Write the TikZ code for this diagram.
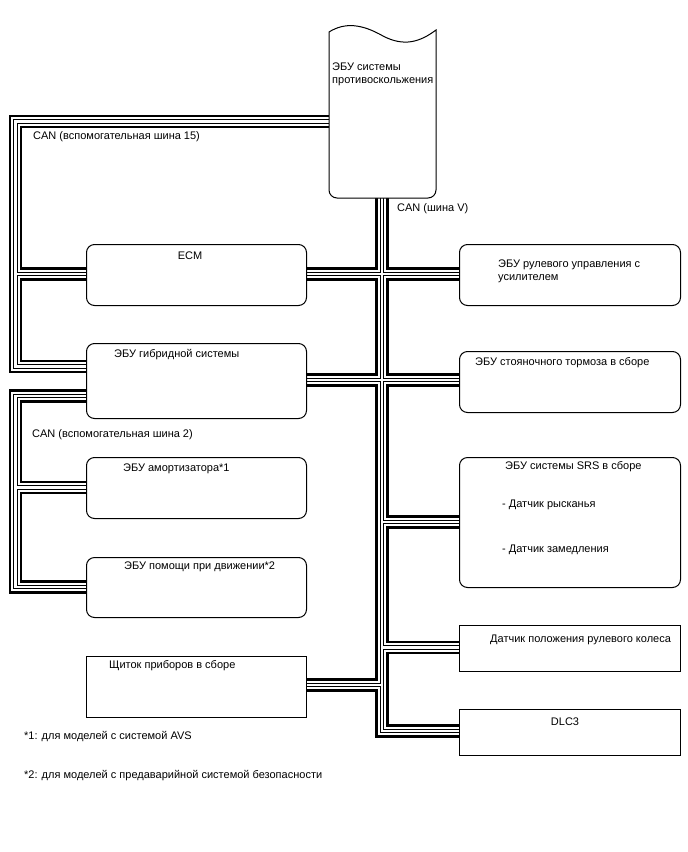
\documentclass[tikz,border=0pt]{standalone}
\usepackage{fontspec}
\setmainfont{Liberation Sans}
\usetikzlibrary{backgrounds}
\newcommand\busnet[1]{%
  % CAN sub bus 15
  \draw[#1] (abs.west |- lt) -- (lt) -- (lb) -- (hyb.west |- lb);
  \draw[#1] (le) -- (ecm.west |- le);
  % CAN V bus
  \draw[#1] (vb |- abs.south) -- (vb) -- (dlc.west |- vb);
  \draw[#1] (ecm.east |- le) -- (ps.west |- le);
  \draw[#1] (hyb.east |- hr) -- (pb.west |- hr);
  \draw[#1] (srsj) -- (srs.west |- srsj);
  \draw[#1] (stj) -- (st.west |- stj);
  \draw[#1] (meter.east |- mtj) -- (mtj);
  % CAN sub bus 2
  \draw[#1] (hyb.west |- l2t) -- (l2t) -- (l2b) -- (drv.west |- l2b);
  \draw[#1] (l2m) -- (shock.west |- l2m);
}
\begin{document}
\begin{tikzpicture}[x=1pt,y=-1pt,
  rbox/.style={draw=black, line width=1pt, fill=white, rounded corners=8pt, inner sep=0pt, anchor=north west},
  sbox/.style={draw=black, line width=1pt, fill=white, inner sep=0pt, anchor=north west},
  lbl/.style={font=\fontsize{11}{13}\selectfont, anchor=west, inner sep=0pt},
  clbl/.style={font=\fontsize{11}{13}\selectfont, anchor=center, inner sep=0pt},
  bwide/.style={line width=13.6pt, black, line join=miter},
  bgap/.style={line width=8.6pt, white, line join=miter},
  bthin/.style={line width=4.4pt, black, line join=miter},
  bcore/.style={line width=2.4pt, white, line join=miter}]
\useasboundingbox (0,0) rectangle (688,852);

% ABS ECU (wavy top)
\node[inner sep=0pt, minimum width=107pt, minimum height=168pt, anchor=north west] (abs) at (329,30) {};
\draw[line width=1pt, fill=white] (329,32) .. controls (345,22) and (362,24) .. (383,36)
  .. controls (404,47) and (420,42) .. (436,30) -- (436,190)
  arc[start angle=0, end angle=90, radius=8] -- (337,198)
  arc[start angle=90, end angle=180, radius=8] -- cycle;
\node[lbl] (absl1) at (332,67) {ЭБУ системы};
\node[lbl] (absl2) at (332,82) {противоскольжения};

% left column
\node[rbox, minimum width=220pt, minimum height=61pt] (ecm) at (86,244) {};
\node[clbl] (ecml) at (190,256) {ECM};
\node[rbox, minimum width=220pt, minimum height=75pt] (hyb) at (86,343) {};
\node[lbl] (hybl) at (114,355) {ЭБУ гибридной системы};
\node[rbox, minimum width=220pt, minimum height=61pt] (shock) at (86,457) {};
\node[lbl] (shockl) at (123,469) {ЭБУ амортизатора*1};
\node[rbox, minimum width=220pt, minimum height=60pt] (drv) at (86,557) {};
\node[lbl] (drvl) at (124,567) {ЭБУ помощи при движении*2};
\node[sbox, minimum width=220pt, minimum height=61pt] (meter) at (86,656) {};
\node[lbl] (meterl) at (109,666) {Щиток приборов в сборе};

% right column
\node[rbox, minimum width=221pt, minimum height=61pt] (ps) at (459,244) {};
\node[lbl] (psl1) at (498,265) {ЭБУ рулевого управления с};
\node[lbl] (psl2) at (498,279) {усилителем};
\node[rbox, minimum width=221pt, minimum height=61pt] (pb) at (459,351) {};
\node[lbl] (pbl) at (475,363) {ЭБУ стояночного тормоза в сборе};
\node[rbox, minimum width=221pt, minimum height=130pt] (srs) at (459,457) {};
\node[lbl] (srsl) at (505,467) {ЭБУ системы SRS в сборе};
\node[lbl] (srsl2) at (502,505) {- Датчик рысканья};
\node[lbl] (srsl3) at (502,550) {- Датчик замедления};
\node[sbox, minimum width=221pt, minimum height=46pt] (st) at (459,625) {};
\node[lbl] (stl) at (490,640) {Датчик положения рулевого колеса};
\node[sbox, minimum width=221pt, minimum height=46pt] (dlc) at (459,709) {};
\node[clbl] (dlcl) at (565,722) {DLC3};

% bus labels and notes
\node[lbl] (can15) at (33,137) {CAN (вспомогательная шина 15)};
\node[lbl] (canv) at (397,209) {CAN (шина V)};
\node[lbl] (can2) at (32,435) {CAN (вспомогательная шина 2)};
\node[lbl] (n1) at (24,737) {*1: для моделей с системой AVS};
\node[lbl] (n2) at (24,776) {*2: для моделей с предаварийной системой безопасности};

% junction coordinates
\coordinate (lt) at (15.5,121.5);
\coordinate (lb) at (15.5,366.5);
\coordinate (le) at (15.5,274);
\coordinate (hr) at (382,380);
\coordinate (vb) at (382,731);
\coordinate (srsj) at (382,522);
\coordinate (stj) at (382,647.5);
\coordinate (mtj) at (382,685);
\coordinate (l2t) at (15.5,396);
\coordinate (l2m) at (15.5,487.5);
\coordinate (l2b) at (15.5,587);

\begin{pgfonlayer}{background}
\fill[white] (0,0) rectangle (688,852);
\busnet{bwide}
\busnet{bgap}
\busnet{bthin}
\busnet{bcore}
\end{pgfonlayer}
\end{tikzpicture}
\end{document}
